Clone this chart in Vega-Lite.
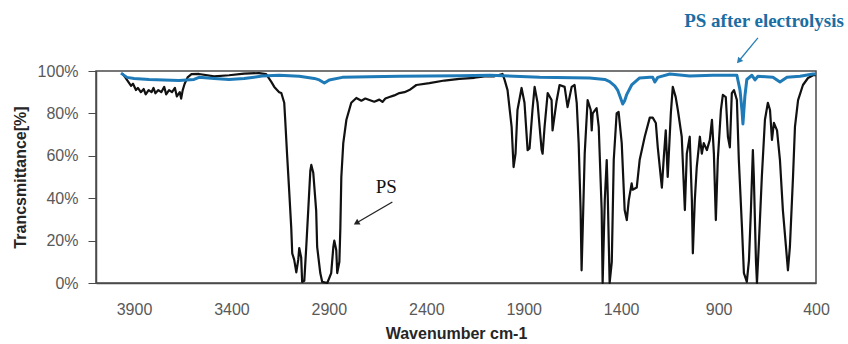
{
  "$schema": "https://vega.github.io/schema/vega-lite/v6.json",
  "width": 720,
  "height": 212,
  "autosize": "none",
  "padding": {"left": 96, "top": 71, "right": 32, "bottom": 61},
  "background": "white",
  "config": {
    "view": {"stroke": "#4a4a4a", "strokeWidth": 1.5},
    "axis": {
      "labelFont": "Liberation Sans",
      "titleFont": "Liberation Sans",
      "labelFontSize": 16,
      "labelColor": "#595959",
      "titleFontSize": 16,
      "titleFontWeight": "bold",
      "titleColor": "#262626",
      "domainColor": "#4a4a4a",
      "domainWidth": 1.5,
      "tickColor": "#4a4a4a",
      "grid": false
    }
  },
  "datasets": {
    "ps": [
      {"wn": 3962, "t": 99}, {"wn": 3945, "t": 97}, {"wn": 3930, "t": 95}, {"wn": 3915, "t": 93},
      {"wn": 3905, "t": 94}, {"wn": 3890, "t": 91}, {"wn": 3880, "t": 92}, {"wn": 3865, "t": 90},
      {"wn": 3850, "t": 91.5}, {"wn": 3840, "t": 89}, {"wn": 3825, "t": 91}, {"wn": 3810, "t": 90},
      {"wn": 3800, "t": 92}, {"wn": 3790, "t": 89.5}, {"wn": 3775, "t": 91}, {"wn": 3760, "t": 90},
      {"wn": 3745, "t": 92.5}, {"wn": 3735, "t": 89}, {"wn": 3720, "t": 91}, {"wn": 3705, "t": 90},
      {"wn": 3690, "t": 92}, {"wn": 3680, "t": 88}, {"wn": 3665, "t": 90}, {"wn": 3658, "t": 87},
      {"wn": 3650, "t": 91}, {"wn": 3640, "t": 94}, {"wn": 3625, "t": 97}, {"wn": 3605, "t": 98.5},
      {"wn": 3566, "t": 98.6}, {"wn": 3489, "t": 97.5}, {"wn": 3412, "t": 98}, {"wn": 3335, "t": 98.8},
      {"wn": 3258, "t": 99}, {"wn": 3222, "t": 98.5}, {"wn": 3196, "t": 95}, {"wn": 3180, "t": 92.5},
      {"wn": 3155, "t": 90}, {"wn": 3144, "t": 89.6}, {"wn": 3129, "t": 85}, {"wn": 3124, "t": 77},
      {"wn": 3114, "t": 60}, {"wn": 3103, "t": 42.5}, {"wn": 3093, "t": 26}, {"wn": 3088, "t": 14},
      {"wn": 3078, "t": 11}, {"wn": 3067, "t": 5}, {"wn": 3057, "t": 11}, {"wn": 3052, "t": 16.5},
      {"wn": 3042, "t": 12}, {"wn": 3037, "t": 0.5}, {"wn": 3026, "t": 1}, {"wn": 3016, "t": 17},
      {"wn": 3006, "t": 34}, {"wn": 2995, "t": 53}, {"wn": 2990, "t": 55.7}, {"wn": 2980, "t": 52},
      {"wn": 2965, "t": 34}, {"wn": 2960, "t": 17}, {"wn": 2944, "t": 4.7}, {"wn": 2934, "t": 0.5},
      {"wn": 2908, "t": 0}, {"wn": 2888, "t": 4.7}, {"wn": 2877, "t": 17}, {"wn": 2872, "t": 20},
      {"wn": 2862, "t": 15.6}, {"wn": 2857, "t": 4.7}, {"wn": 2846, "t": 10}, {"wn": 2841, "t": 26},
      {"wn": 2836, "t": 50}, {"wn": 2826, "t": 66}, {"wn": 2810, "t": 77}, {"wn": 2785, "t": 85},
      {"wn": 2759, "t": 87.3}, {"wn": 2733, "t": 86}, {"wn": 2713, "t": 87}, {"wn": 2692, "t": 86.3},
      {"wn": 2667, "t": 85.5}, {"wn": 2641, "t": 86.5}, {"wn": 2625, "t": 85.4}, {"wn": 2610, "t": 87},
      {"wn": 2589, "t": 87.7}, {"wn": 2564, "t": 88.5}, {"wn": 2538, "t": 89.6}, {"wn": 2512, "t": 90},
      {"wn": 2487, "t": 91}, {"wn": 2451, "t": 93.4}, {"wn": 2384, "t": 94.3}, {"wn": 2307, "t": 95.5},
      {"wn": 2230, "t": 96.3}, {"wn": 2153, "t": 96.8}, {"wn": 2101, "t": 97.5}, {"wn": 2050, "t": 97.5},
      {"wn": 2009, "t": 98.6}, {"wn": 1998, "t": 95.8}, {"wn": 1983, "t": 91}, {"wn": 1962, "t": 73.6},
      {"wn": 1952, "t": 54.7}, {"wn": 1942, "t": 61}, {"wn": 1932, "t": 81.6}, {"wn": 1911, "t": 92},
      {"wn": 1896, "t": 85}, {"wn": 1880, "t": 62.7}, {"wn": 1870, "t": 63.5}, {"wn": 1855, "t": 81.6},
      {"wn": 1844, "t": 92.5}, {"wn": 1829, "t": 85}, {"wn": 1808, "t": 62.7}, {"wn": 1803, "t": 61},
      {"wn": 1793, "t": 73.6}, {"wn": 1777, "t": 89.6}, {"wn": 1757, "t": 86.3}, {"wn": 1752, "t": 72},
      {"wn": 1731, "t": 86}, {"wn": 1716, "t": 93.4}, {"wn": 1690, "t": 92.5}, {"wn": 1675, "t": 83},
      {"wn": 1654, "t": 92.5}, {"wn": 1639, "t": 93.4}, {"wn": 1628, "t": 85}, {"wn": 1618, "t": 66},
      {"wn": 1608, "t": 34.4}, {"wn": 1603, "t": 6}, {"wn": 1597, "t": 26}, {"wn": 1587, "t": 61},
      {"wn": 1572, "t": 86.3}, {"wn": 1556, "t": 81.6}, {"wn": 1551, "t": 72}, {"wn": 1546, "t": 80},
      {"wn": 1526, "t": 82.5}, {"wn": 1515, "t": 73.6}, {"wn": 1500, "t": 34.4}, {"wn": 1495, "t": 0},
      {"wn": 1484, "t": 39}, {"wn": 1474, "t": 58}, {"wn": 1469, "t": 42.5}, {"wn": 1459, "t": 0},
      {"wn": 1448, "t": 10}, {"wn": 1438, "t": 58}, {"wn": 1423, "t": 80}, {"wn": 1413, "t": 80.7},
      {"wn": 1397, "t": 66}, {"wn": 1382, "t": 34.4}, {"wn": 1371, "t": 29.7}, {"wn": 1361, "t": 39},
      {"wn": 1346, "t": 47}, {"wn": 1341, "t": 44}, {"wn": 1320, "t": 45}, {"wn": 1305, "t": 58},
      {"wn": 1279, "t": 69}, {"wn": 1253, "t": 78}, {"wn": 1238, "t": 78}, {"wn": 1222, "t": 75.5},
      {"wn": 1212, "t": 64}, {"wn": 1191, "t": 45}, {"wn": 1181, "t": 59.4}, {"wn": 1171, "t": 72},
      {"wn": 1161, "t": 50}, {"wn": 1145, "t": 80}, {"wn": 1135, "t": 92.5}, {"wn": 1120, "t": 87.7},
      {"wn": 1109, "t": 81.6}, {"wn": 1089, "t": 69}, {"wn": 1073, "t": 34.4}, {"wn": 1063, "t": 61},
      {"wn": 1048, "t": 69}, {"wn": 1037, "t": 39}, {"wn": 1032, "t": 14}, {"wn": 1022, "t": 39},
      {"wn": 1012, "t": 54.7}, {"wn": 996, "t": 69}, {"wn": 986, "t": 61}, {"wn": 976, "t": 66},
      {"wn": 960, "t": 62.7}, {"wn": 945, "t": 67.5}, {"wn": 934, "t": 77}, {"wn": 924, "t": 61},
      {"wn": 914, "t": 29.7}, {"wn": 904, "t": 58}, {"wn": 888, "t": 81.6}, {"wn": 878, "t": 88.7},
      {"wn": 863, "t": 87.7}, {"wn": 852, "t": 69}, {"wn": 842, "t": 64}, {"wn": 832, "t": 89.6},
      {"wn": 821, "t": 91}, {"wn": 806, "t": 86.3}, {"wn": 796, "t": 58}, {"wn": 780, "t": 26.4},
      {"wn": 770, "t": 4.7}, {"wn": 755, "t": 0.5}, {"wn": 744, "t": 10.8}, {"wn": 734, "t": 34.4},
      {"wn": 724, "t": 62.7}, {"wn": 719, "t": 50}, {"wn": 708, "t": 10}, {"wn": 703, "t": 0},
      {"wn": 693, "t": 19}, {"wn": 678, "t": 50}, {"wn": 662, "t": 77}, {"wn": 647, "t": 85},
      {"wn": 636, "t": 81.6}, {"wn": 626, "t": 67.5}, {"wn": 616, "t": 75.5}, {"wn": 600, "t": 72},
      {"wn": 585, "t": 58}, {"wn": 570, "t": 34.4}, {"wn": 554, "t": 17}, {"wn": 544, "t": 6},
      {"wn": 534, "t": 17}, {"wn": 518, "t": 50}, {"wn": 508, "t": 73.6}, {"wn": 492, "t": 86.3},
      {"wn": 467, "t": 93.4}, {"wn": 441, "t": 96.7}, {"wn": 415, "t": 98}, {"wn": 400, "t": 98}
    ],
    "psAfter": [
      {"wn": 3967, "t": 99}, {"wn": 3936, "t": 97}, {"wn": 3900, "t": 96.5}, {"wn": 3823, "t": 96},
      {"wn": 3746, "t": 95.8}, {"wn": 3669, "t": 95.5}, {"wn": 3592, "t": 96}, {"wn": 3566, "t": 97},
      {"wn": 3489, "t": 96.5}, {"wn": 3412, "t": 96}, {"wn": 3335, "t": 96.5}, {"wn": 3242, "t": 97.6},
      {"wn": 3155, "t": 98}, {"wn": 3052, "t": 97.5}, {"wn": 2975, "t": 96.5}, {"wn": 2949, "t": 95.8},
      {"wn": 2923, "t": 94.3}, {"wn": 2898, "t": 95.8}, {"wn": 2831, "t": 97}, {"wn": 2692, "t": 97.3},
      {"wn": 2538, "t": 97.5}, {"wn": 2384, "t": 97.6}, {"wn": 2230, "t": 97.8}, {"wn": 2075, "t": 98},
      {"wn": 1818, "t": 97}, {"wn": 1562, "t": 96.7}, {"wn": 1484, "t": 96}, {"wn": 1459, "t": 95},
      {"wn": 1433, "t": 93}, {"wn": 1418, "t": 91}, {"wn": 1402, "t": 87}, {"wn": 1392, "t": 84.4},
      {"wn": 1382, "t": 86}, {"wn": 1371, "t": 89}, {"wn": 1346, "t": 93.4}, {"wn": 1305, "t": 96.7},
      {"wn": 1253, "t": 97}, {"wn": 1238, "t": 97}, {"wn": 1227, "t": 94.8}, {"wn": 1212, "t": 97},
      {"wn": 1150, "t": 98.6}, {"wn": 1048, "t": 97.6}, {"wn": 929, "t": 98}, {"wn": 806, "t": 98},
      {"wn": 790, "t": 91}, {"wn": 780, "t": 81.6}, {"wn": 775, "t": 75}, {"wn": 765, "t": 88},
      {"wn": 755, "t": 96}, {"wn": 729, "t": 98}, {"wn": 713, "t": 95.8}, {"wn": 698, "t": 97.5},
      {"wn": 621, "t": 97}, {"wn": 585, "t": 94.8}, {"wn": 549, "t": 97}, {"wn": 482, "t": 97.5},
      {"wn": 415, "t": 98.6}, {"wn": 400, "t": 98.6}
    ],
    "labelPS": [{"label": "PS", "wn": 2605, "t": 45.3}],
    "arrowPS": [{"wn": 2574, "t": 38.2, "wn2": 2759, "t2": 28.3}],
    "labelAfter": [{"label": "PS after electrolysis", "wn": 667, "t": 123.6}],
    "arrowAfter": [{"wn": 698, "t": 115.6, "wn2": 796, "t2": 104.7}]
  },
  "layer": [
    {
      "data": {"name": "ps"},
      "mark": {"type": "line", "color": "#111111", "strokeWidth": 2.2, "strokeJoin": "round"},
      "encoding": {
        "x": {
          "field": "wn", "type": "quantitative",
          "scale": {"domain": [400, 4095], "reverse": true, "nice": false, "zero": false},
          "axis": {
            "title": "Wavenumber cm-1",
            "values": [3900, 3400, 2900, 2400, 1900, 1400, 900, 400],
            "format": "d",
            "ticks": false,
            "labelPadding": 18,
            "labelFlush": false,
            "labelOverlap": false,
            "titlePadding": 8
          }
        },
        "y": {
          "field": "t", "type": "quantitative",
          "scale": {"domain": [0, 100], "nice": false},
          "axis": {
            "title": "Trancsmittance[%]",
            "values": [0, 20, 40, 60, 80, 100],
            "labelExpr": "datum.value + '%'",
            "tickSize": 8,
            "labelPadding": 10,
            "titlePadding": 9
          }
        }
      }
    },
    {
      "data": {"name": "psAfter"},
      "mark": {"type": "line", "color": "#1f7ab8", "strokeWidth": 3, "strokeJoin": "round"},
      "encoding": {
        "x": {"field": "wn", "type": "quantitative"},
        "y": {"field": "t", "type": "quantitative"}
      }
    },
    {
      "data": {"name": "labelPS"},
      "mark": {"type": "text", "font": "Liberation Serif", "fontSize": 19, "color": "#111111", "align": "center", "baseline": "middle"},
      "encoding": {
        "x": {"field": "wn", "type": "quantitative"},
        "y": {"field": "t", "type": "quantitative"},
        "text": {"field": "label"}
      }
    },
    {
      "data": {"name": "arrowPS"},
      "mark": {"type": "rule", "color": "#222222", "strokeWidth": 1.3},
      "encoding": {
        "x": {"field": "wn", "type": "quantitative"},
        "y": {"field": "t", "type": "quantitative"},
        "x2": {"field": "wn2"},
        "y2": {"field": "t2"}
      }
    },
    {
      "data": {"name": "arrowPS"},
      "mark": {"type": "point", "shape": "triangle-up", "filled": true, "opacity": 1, "color": "#222222", "size": 45, "angle": 240},
      "encoding": {
        "x": {"field": "wn2", "type": "quantitative"},
        "y": {"field": "t2", "type": "quantitative"}
      }
    },
    {
      "data": {"name": "labelAfter"},
      "mark": {"type": "text", "font": "Liberation Serif", "fontWeight": "bold", "fontSize": 19, "color": "#1a6ea3", "align": "center", "baseline": "middle"},
      "encoding": {
        "x": {"field": "wn", "type": "quantitative"},
        "y": {"field": "t", "type": "quantitative"},
        "text": {"field": "label"}
      }
    },
    {
      "data": {"name": "arrowAfter"},
      "mark": {"type": "rule", "color": "#2a7fb5", "strokeWidth": 1.3},
      "encoding": {
        "x": {"field": "wn", "type": "quantitative"},
        "y": {"field": "t", "type": "quantitative"},
        "x2": {"field": "wn2"},
        "y2": {"field": "t2"}
      }
    },
    {
      "data": {"name": "arrowAfter"},
      "mark": {"type": "point", "shape": "triangle-up", "filled": true, "opacity": 1, "color": "#2a7fb5", "size": 45, "angle": 220},
      "encoding": {
        "x": {"field": "wn2", "type": "quantitative"},
        "y": {"field": "t2", "type": "quantitative"}
      }
    }
  ]
}
